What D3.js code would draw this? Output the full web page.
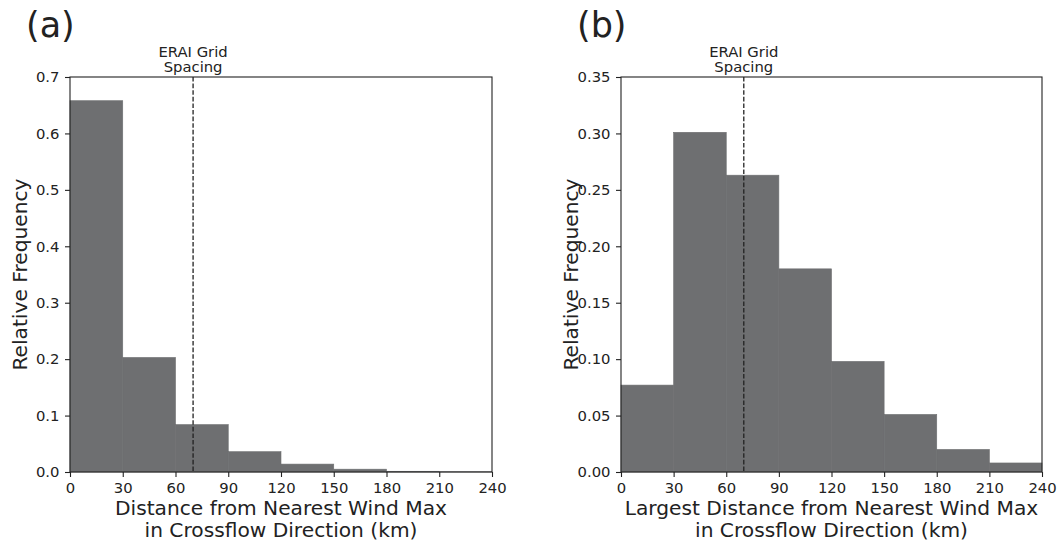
<!DOCTYPE html>
<html>
<head>
<meta charset="utf-8">
<script src="https://cdn.jsdelivr.net/npm/d3@7"></script>
<style>
  body { margin: 0; background: #fff; }
  svg text { font-family: "DejaVu Sans", sans-serif; fill: #222; }
</style>
</head>
<body>
<svg id="fig" width="1057" height="542"></svg>
<script>
// Histogram bin edges (km) shared by both panels
const binEdges = [0, 30, 60, 90, 120, 150, 180, 210, 240];
const xTicks = [0, 30, 60, 90, 120, 150, 180, 210, 240];
const gridSpacingKm = 70;

// Panel (a): distance from nearest wind max
const freqA = [0.658, 0.203, 0.084, 0.036, 0.014, 0.005, 0.0013, 0.0004];
const yTicksA = [0.0, 0.1, 0.2, 0.3, 0.4, 0.5, 0.6, 0.7];
const yMaxA = 0.7;

// Panel (b): largest distance from nearest wind max
const freqB = [0.077, 0.301, 0.263, 0.180, 0.098, 0.051, 0.020, 0.008];
const yTicksB = [0.00, 0.05, 0.10, 0.15, 0.20, 0.25, 0.30, 0.35];
const yMaxB = 0.35;

const svg = d3.select("#fig");
const barColor = "#6e6f71";

function panel(opts) {
  const { left, right, top, bottom, freq, yTicks, yMax, yFmt, tag, xLabel1, xLabel2 } = opts;
  const x = d3.scaleLinear().domain([0, 240]).range([left, right]);
  const y = d3.scaleLinear().domain([0, yMax]).range([bottom, top]);
  const g = svg.append("g");

  const bins = freq.map((v, i) => ({ x0: binEdges[i], x1: binEdges[i + 1], v }));
  g.selectAll("rect.bar").data(bins).join("rect")
    .attr("class", "bar")
    .attr("x", d => x(d.x0))
    .attr("width", d => x(d.x1) - x(d.x0))
    .attr("y", d => y(d.v))
    .attr("height", d => y(0) - y(d.v))
    .attr("fill", barColor)
    .attr("stroke", barColor).attr("stroke-width", 0.6);

  // grid spacing reference line
  g.append("line")
    .attr("x1", x(gridSpacingKm)).attr("x2", x(gridSpacingKm))
    .attr("y1", y(yMax)).attr("y2", y(0))
    .attr("stroke", "#222").attr("stroke-width", 1.3)
    .attr("stroke-dasharray", "4.6,2");

  g.append("text")
    .attr("x", x(gridSpacingKm)).attr("y", 57)
    .attr("text-anchor", "middle").attr("font-size", 14.8)
    .text("ERAI Grid");
  g.append("text")
    .attr("x", x(gridSpacingKm)).attr("y", 72)
    .attr("text-anchor", "middle").attr("font-size", 14.8)
    .text("Spacing");

  // frame
  g.append("rect")
    .attr("x", left).attr("y", top)
    .attr("width", right - left).attr("height", bottom - top)
    .attr("fill", "none").attr("stroke", "#222").attr("stroke-width", 1.1);

  const xAxis = g.append("g")
    .attr("transform", `translate(0,${bottom})`)
    .call(d3.axisBottom(x).tickValues(xTicks).tickSize(5).tickPadding(5.5).tickFormat(d3.format("d")));
  const yAxis = g.append("g")
    .attr("transform", `translate(${left},0)`)
    .call(d3.axisLeft(y).tickValues(yTicks).tickSize(5).tickPadding(5.5).tickFormat(d3.format(yFmt)));
  [xAxis, yAxis].forEach(a => {
    a.select(".domain").remove();
    a.selectAll(".tick line").attr("stroke", "#222").attr("stroke-width", 1.1);
    a.selectAll(".tick text").attr("font-size", 14.8).attr("font-family", "DejaVu Sans").attr("fill", "#222");
  });

  g.append("text")
    .attr("x", (left + right) / 2).attr("y", 515)
    .attr("text-anchor", "middle").attr("font-size", 20.2)
    .text(xLabel1);
  g.append("text")
    .attr("x", (left + right) / 2).attr("y", 537)
    .attr("text-anchor", "middle").attr("font-size", 20.2)
    .text(xLabel2);

  g.append("text")
    .attr("transform", `translate(${left - 43},${(top + bottom) / 2}) rotate(-90)`)
    .attr("text-anchor", "middle").attr("font-size", 20.2)
    .text("Relative Frequency");

  g.append("text")
    .attr("x", left - 44).attr("y", 37)
    .attr("font-size", 35)
    .text(tag);
}

panel({
  left: 70, right: 492, top: 77, bottom: 472,
  freq: freqA, yTicks: yTicksA, yMax: yMaxA, yFmt: ".1f", tag: "(a)",
  xLabel1: "Distance from Nearest Wind Max",
  xLabel2: "in Crossflow Direction (km)"
});
panel({
  left: 621, right: 1042, top: 77, bottom: 472,
  freq: freqB, yTicks: yTicksB, yMax: yMaxB, yFmt: ".2f", tag: "(b)",
  xLabel1: "Largest Distance from Nearest Wind Max",
  xLabel2: "in Crossflow Direction (km)"
});
</script>
</body>
</html>
